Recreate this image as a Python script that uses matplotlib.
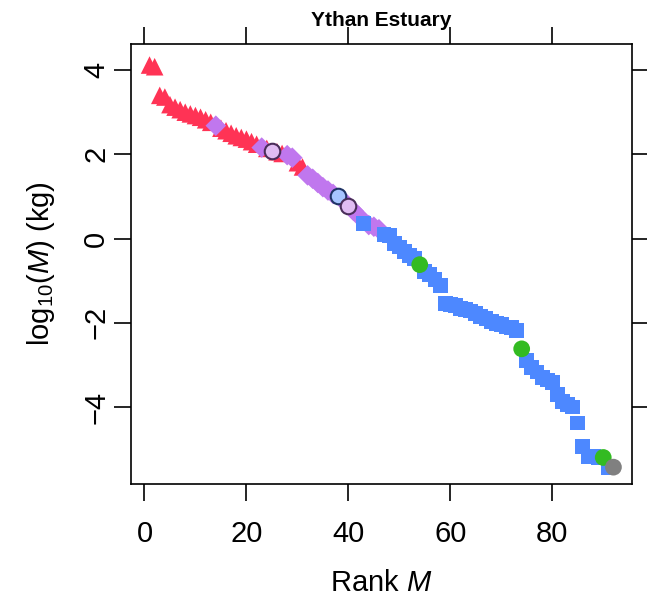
import matplotlib
matplotlib.use("Agg")
import matplotlib.pyplot as plt
import numpy as np

plt.rcParams['font.family'] = ['Liberation Sans', 'DejaVu Sans']
plt.rcParams['mathtext.fontset'] = 'custom'
plt.rcParams['mathtext.rm'] = 'Liberation Sans'
plt.rcParams['mathtext.it'] = 'Liberation Sans:italic'

# log10 body mass by rank, Ythan Estuary
log_mass = [4.12, 4.08, 3.40, 3.36, 3.18, 3.12, 3.06, 3.00, 2.96, 2.92,
            2.88, 2.82, 2.76, 2.68, 2.62, 2.56, 2.50, 2.44, 2.40, 2.36,
            2.30, 2.24, 2.16, 2.14, 2.09, 2.06, 2.02, 1.98, 1.92, 1.80,
            1.70, 1.50, 1.42, 1.32, 1.22, 1.14, 1.06, 1.00, 0.90, 0.78,
            0.66, 0.54, 0.36, 0.32, 0.28, 0.22, 0.10, 0.08, -0.12, -0.20,
            -0.30, -0.40, -0.48, -0.62, -0.78, -0.85, -0.98, -1.12, -1.55, -1.57,
            -1.60, -1.67, -1.69, -1.72, -1.79, -1.86, -1.90, -1.98, -2.02, -2.05,
            -2.10, -2.12, -2.19, -2.62, -2.90, -3.07, -3.17, -3.30, -3.36, -3.42,
            -3.70, -3.88, -3.95, -4.00, -4.38, -4.93, -5.18, -5.18, -5.20, -5.20,
            -5.45, -5.43]
# T triangle, D diamond, S square, G green circle, B blue circle, L lilac circle, X grey circle
group = list("TTTTTTTTTTTTTD" "TTTTTTTTD" "T" "L" "TT" "DD" "TT" "DDDDDD" "B" "D" "L" "DD" "S" "DDD"
             "SSSSSSS" "G" + "S" * 19 + "G" + "S" * 15 + "G" "S" "X")
rank = np.arange(1, len(log_mass) + 1)

styles = {
    'T': dict(marker='^', c='#FF3355', s=160, edgecolors='none'),
    'D': dict(marker='D', c='#C077EE', s=110, edgecolors='none'),
    'S': dict(marker='s', c='#4D88FF', s=115, edgecolors='none'),
    'G': dict(marker='o', c='#33BB22', s=145, edgecolors='none'),
    'X': dict(marker='o', c='#808080', s=145, edgecolors='none'),
    'B': dict(marker='o', c='#A6C4FF', s=125, edgecolors='#1F3366', linewidths=1.5),
    'L': dict(marker='o', c='#E0BCF2', s=125, edgecolors='#4A2E5A', linewidths=1.5),
}

fig = plt.figure(figsize=(6.47, 6.0), dpi=100)
ax = fig.add_axes([131 / 647, 1 - 484 / 600, 501 / 647, 440 / 600])

y = np.array(log_mass)
g = np.array(group)
for k in ['T', 'D', 'S', 'G', 'X', 'B', 'L']:
    m = g == k
    ax.scatter(rank[m], y[m], zorder=3, **styles[k])

ax.set_xlim(-2.64, 95.64)
ax.set_ylim(-5.83, 4.62)
ax.set_xticks([0, 20, 40, 60, 80])
ax.set_yticks([-4, -2, 0, 2, 4])
ax.set_yticklabels(['\u22124', '\u22122', '0', '2', '4'], rotation=90, va='center')
ax.tick_params(direction='out', length=12, width=1.2, labelsize=21,
               top=True, right=True)
ax.tick_params(axis='x', pad=14)
ax.tick_params(axis='y', pad=3)
for sp in ax.spines.values():
    sp.set_linewidth(1.2)

ax.set_xlabel('Rank $\\mathit{M}$', fontsize=21, labelpad=15)
ax.set_ylabel('log$_{10}$($\\mathit{M}$) (kg)', fontsize=21, labelpad=18)
ax.set_title('Ythan Estuary', fontsize=15, fontweight='bold', pad=13)

fig.savefig('out.png', dpi=100)
